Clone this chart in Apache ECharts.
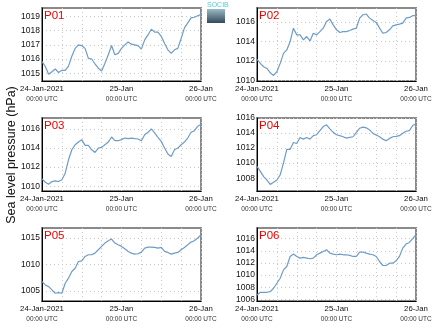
<!DOCTYPE html>
<html>
<head>
<meta charset="utf-8">
<script src="https://cdn.jsdelivr.net/npm/echarts@6/dist/echarts.min.js"></script>
<style>html,body{margin:0;padding:0;background:#fff}#c{width:435px;height:327px}</style>
</head>
<body>
<div id="c"></div>
<script>
// hours since 24-Jan-2021 00:00 UTC
const hours = [0,1,2,3,4,5,6,7,8,9,10,11,12,13,14,15,16,17,18,19,20,21,22,23,24,25,26,27,28,29,30,31,32,33,34,35,36,37,38,39,40,41,42,43,44,45,46,47,48];
const xTickLabels = {0: '24-Jan-2021', 24: '25-Jan', 48: '26-Jan'};
const xSubLabel = '00:00 UTC';
const panelNames = ['P01','P02','P03','P04','P05','P06'];

const p01 = [1015.82,1015.47,1014.93,1015.1,1015.3,1015.05,1015.2,1015.2,1015.5,1016.2,1016.75,1017.0,1016.95,1016.75,1016.05,1016.0,1015.65,1015.35,1015.15,1015.7,1016.3,1016.95,1016.3,1016.4,1016.75,1017.0,1017.2,1017.05,1017.0,1016.95,1016.7,1017.35,1017.7,1018.1,1017.9,1017.9,1017.6,1017.1,1016.65,1016.4,1016.65,1016.75,1017.45,1018.2,1018.55,1018.9,1018.95,1019.05,1019.15];
const p02 = [1012.17,1011.76,1011.41,1011.24,1010.79,1010.52,1010.9,1011.76,1012.79,1013.14,1014.0,1015.38,1014.69,1014.69,1014.17,1014.52,1014.07,1014.86,1014.69,1015.03,1015.38,1016.07,1016.31,1015.72,1015.21,1014.93,1015.03,1015.03,1015.14,1015.28,1015.38,1016.41,1016.76,1016.83,1016.41,1016.17,1015.97,1015.38,1014.86,1014.93,1015.21,1015.62,1015.72,1015.79,1015.9,1016.41,1016.48,1016.66,1016.66];
const p03 = [1010.77,1010.42,1010.21,1010.49,1010.56,1010.49,1010.67,1011.37,1012.77,1013.82,1014.35,1014.63,1014.88,1014.28,1014.28,1013.82,1013.54,1014.0,1014.07,1014.35,1014.63,1015.16,1014.77,1014.77,1014.88,1015.05,1014.98,1015.05,1014.98,1014.95,1014.77,1015.4,1015.65,1016.0,1015.58,1015.12,1014.7,1014.0,1013.37,1013.12,1013.82,1014.0,1014.35,1014.63,1015.05,1015.65,1015.82,1016.28,1016.46];
const p04 = [1009.57,1008.9,1008.22,1007.76,1007.18,1007.45,1007.76,1008.44,1010.03,1011.84,1011.84,1012.74,1012.61,1013.42,1013.19,1013.42,1013.19,1013.65,1013.78,1014.33,1014.87,1015.1,1014.55,1014.1,1013.78,1013.65,1013.51,1013.33,1013.42,1013.51,1014.1,1014.64,1014.78,1014.69,1014.42,1013.96,1013.74,1013.51,1013.19,1012.97,1013.29,1013.51,1013.56,1013.65,1013.96,1014.24,1014.33,1015.0,1015.23];
const p05 = [1006.77,1006.14,1005.82,1005.19,1004.56,1004.68,1004.56,1006.46,1007.41,1008.67,1009.3,1010.57,1010.7,1011.52,1011.84,1011.84,1012.15,1012.78,1013.42,1014.05,1014.49,1014.81,1014.05,1013.73,1013.42,1012.97,1012.47,1012.15,1011.96,1012.03,1012.34,1013.1,1013.29,1013.29,1013.23,1013.1,1013.23,1012.47,1012.28,1011.96,1012.15,1012.28,1012.78,1013.23,1013.73,1014.24,1014.49,1015.0,1015.63];
const p06 = [1006.72,1007.16,1007.16,1007.16,1007.27,1007.82,1008.65,1009.48,1010.86,1011.41,1013.07,1013.46,1013.07,1012.8,1012.91,1012.8,1012.69,1012.8,1013.35,1013.62,1013.9,1014.18,1013.62,1013.46,1013.35,1013.46,1013.35,1013.35,1013.24,1013.07,1013.07,1013.79,1013.79,1013.62,1013.46,1013.35,1013.07,1012.24,1011.58,1011.58,1011.97,1011.97,1012.35,1013.07,1014.45,1015.12,1015.39,1016.0,1016.66];

const yTicks = [
  [1015,1016,1017,1018,1019],
  [1010,1012,1014,1016],
  [1010,1012,1014,1016],
  [1008,1010,1012,1014,1016],
  [1005,1010,1015],
  [1006,1008,1010,1012,1014,1016]
];
const yMin = [1014.45,1009.95,1009.5,1006.3,1003.1,1005.72];
const yMax = [1019.6,1017.45,1017.15,1016.0,1016.9,1017.77];
const values = [p01,p02,p03,p04,p05,p06];

const FONT = 'Liberation Sans, Arial, sans-serif';
const lefts = [42,257];
const tops = [8,118,228];
const W = 159, H = 73;

const grids = [], xAxes = [], yAxes = [], series = [], titles = [];
for (let i = 0; i < 6; i++) {
  const col = i % 2, row = Math.floor(i / 2);
  grids.push({left: lefts[col], top: tops[row], width: W, height: H, show: true,
    borderColor: '#8a8a8a', borderWidth: 2, backgroundColor: '#fff'});
  xAxes.push({type: 'value', gridIndex: i, min: 0, max: 48, interval: 6,
    axisLine: {show: true, onZero: false, lineStyle: {color: '#000', width: 1}},
    axisTick: {show: false},
    splitLine: {show: true, lineStyle: {color: '#c8c8c8', type: [1, 3], width: 1}},
    axisLabel: {show: true, margin: 3, showMinLabel: true, showMaxLabel: true, hideOverlap: false,
      formatter: v => xTickLabels[v] !== undefined ? '{a|' + xTickLabels[v] + '}\n{b|' + xSubLabel + '}' : '',
      rich: {a: {fontSize: 7.8, color: '#111', fontFamily: FONT, lineHeight: 10},
             b: {fontSize: 6.5, color: '#333', fontFamily: FONT, lineHeight: 10}}}});
  yAxes.push({type: 'value', gridIndex: i, min: yMin[i], max: yMax[i],
    axisLine: {show: true, lineStyle: {color: '#000', width: 1}},
    axisTick: {show: false, customValues: yTicks[i]},
    splitLine: {show: true, lineStyle: {color: '#c8c8c8', type: [1, 3], width: 1}},
    axisLabel: {show: true, margin: 2, customValues: yTicks[i], color: '#111', fontSize: 8.5, fontFamily: FONT,
      formatter: v => String(Math.round(v))}});
  series.push({type: 'line', xAxisIndex: i, yAxisIndex: i, showSymbol: false, symbol: 'none',
    data: hours.map((h, k) => [h, values[i][k]]),
    lineStyle: {color: '#6d9cc9', width: 1.2}, animation: false});
  titles.push({text: panelNames[i], left: lefts[col] + 1, top: tops[row] + 1, padding: [1, 1, 0, 1],
    backgroundColor: '#fff', textStyle: {color: '#ee0000', fontSize: 11.5, fontWeight: 'normal', fontFamily: FONT}});
}

const chart = echarts.init(document.getElementById('c'), null, {renderer: 'canvas'});
chart.setOption({
  animation: false,
  backgroundColor: '#fff',
  textStyle: {fontFamily: FONT},
  title: titles,
  grid: grids,
  xAxis: xAxes,
  yAxis: yAxes,
  series: series,
  graphic: [
    {type: 'text', x: 12, y: 155, rotation: Math.PI / 2,
      style: {text: 'Sea level pressure (hPa)', fontSize: 12.5, fontFamily: FONT, fill: '#111', align: 'center', verticalAlign: 'middle'}},
    {type: 'text', x: 207, y: 2, style: {text: 'SOCIB', fontSize: 7, fontFamily: FONT, fill: '#55c8d8'}},
    {type: 'rect', shape: {x: 207, y: 9, width: 18, height: 14},
      style: {fill: new echarts.graphic.LinearGradient(0, 0, 0, 1, [{offset: 0, color: '#9bbac8'}, {offset: 1, color: '#34495a'}])}}
  ]
});
</script>
</body>
</html>
